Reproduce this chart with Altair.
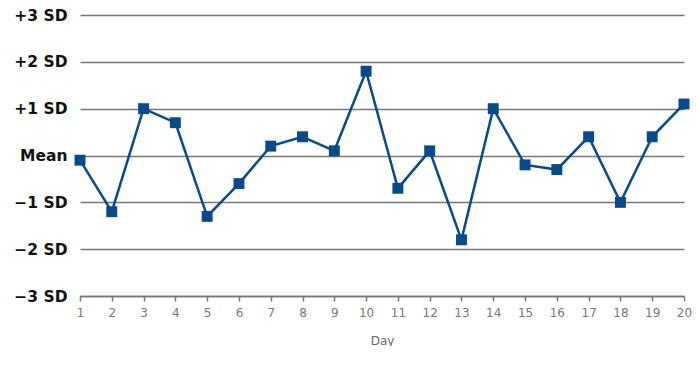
import altair as alt
import pandas as pd

days = list(range(1, 21))
values = [-0.1, -1.2, 1.0, 0.7, -1.3, -0.6, 0.2, 0.4, 0.1, 1.8,
          -0.7, 0.1, -1.8, 1.0, -0.2, -0.3, 0.4, -1.0, 0.4, 1.1]
sd_ticks = [-3, -2, -1, 0, 1, 2, 3]
sd_labels = ["\u22123 SD", "\u22122 SD", "\u22121 SD", "Mean", "+1 SD", "+2 SD", "+3 SD"]

df = pd.DataFrame({"Day": days, "Value": values})

label_expr = " : ".join(
    [f"datum.value == {v} ? '{l}'" for v, l in zip(sd_ticks, sd_labels)]
) + " : ''"

chart = alt.Chart(df).mark_line(
    color="#0b4a8a", strokeWidth=2.5,
    point=alt.OverlayMarkDef(shape="square", size=120, filled=True, color="#0b4a8a", opacity=1),
).encode(
    x=alt.X("Day:Q", scale=alt.Scale(domain=[1, 20], nice=False, zero=False),
            axis=alt.Axis(values=days, grid=False, title="Day", tickSize=5,
                          tickColor="#777", tickWidth=1.5, domainColor="#777", domainWidth=1.5,
                          labelColor="#777", labelFontSize=12, labelFont="DejaVu Sans",
                          labelPadding=6, titleColor="#666", titleFontSize=12,
                          titleFontWeight="normal", titleFont="DejaVu Sans", titlePadding=17,
                          labelFlush=False)),
    y=alt.Y("Value:Q", scale=alt.Scale(domain=[-3, 3], nice=False),
            axis=alt.Axis(values=sd_ticks, labelExpr=label_expr, title=None, ticks=False,
                          domain=False, grid=True, gridColor="#777", gridWidth=1.5,
                          labelColor="#111", labelFontSize=15.5, labelFontWeight="bold",
                          labelFont="DejaVu Sans", labelPadding=13)),
).properties(
    width=604, height=281,
    autosize=alt.AutoSizeParams(type="none"),
    padding={"left": 72, "top": 7, "right": 8, "bottom": 50},
).configure_view(stroke=None)

chart.save("out.html", embed_options={"renderer": "svg", "actions": False})
